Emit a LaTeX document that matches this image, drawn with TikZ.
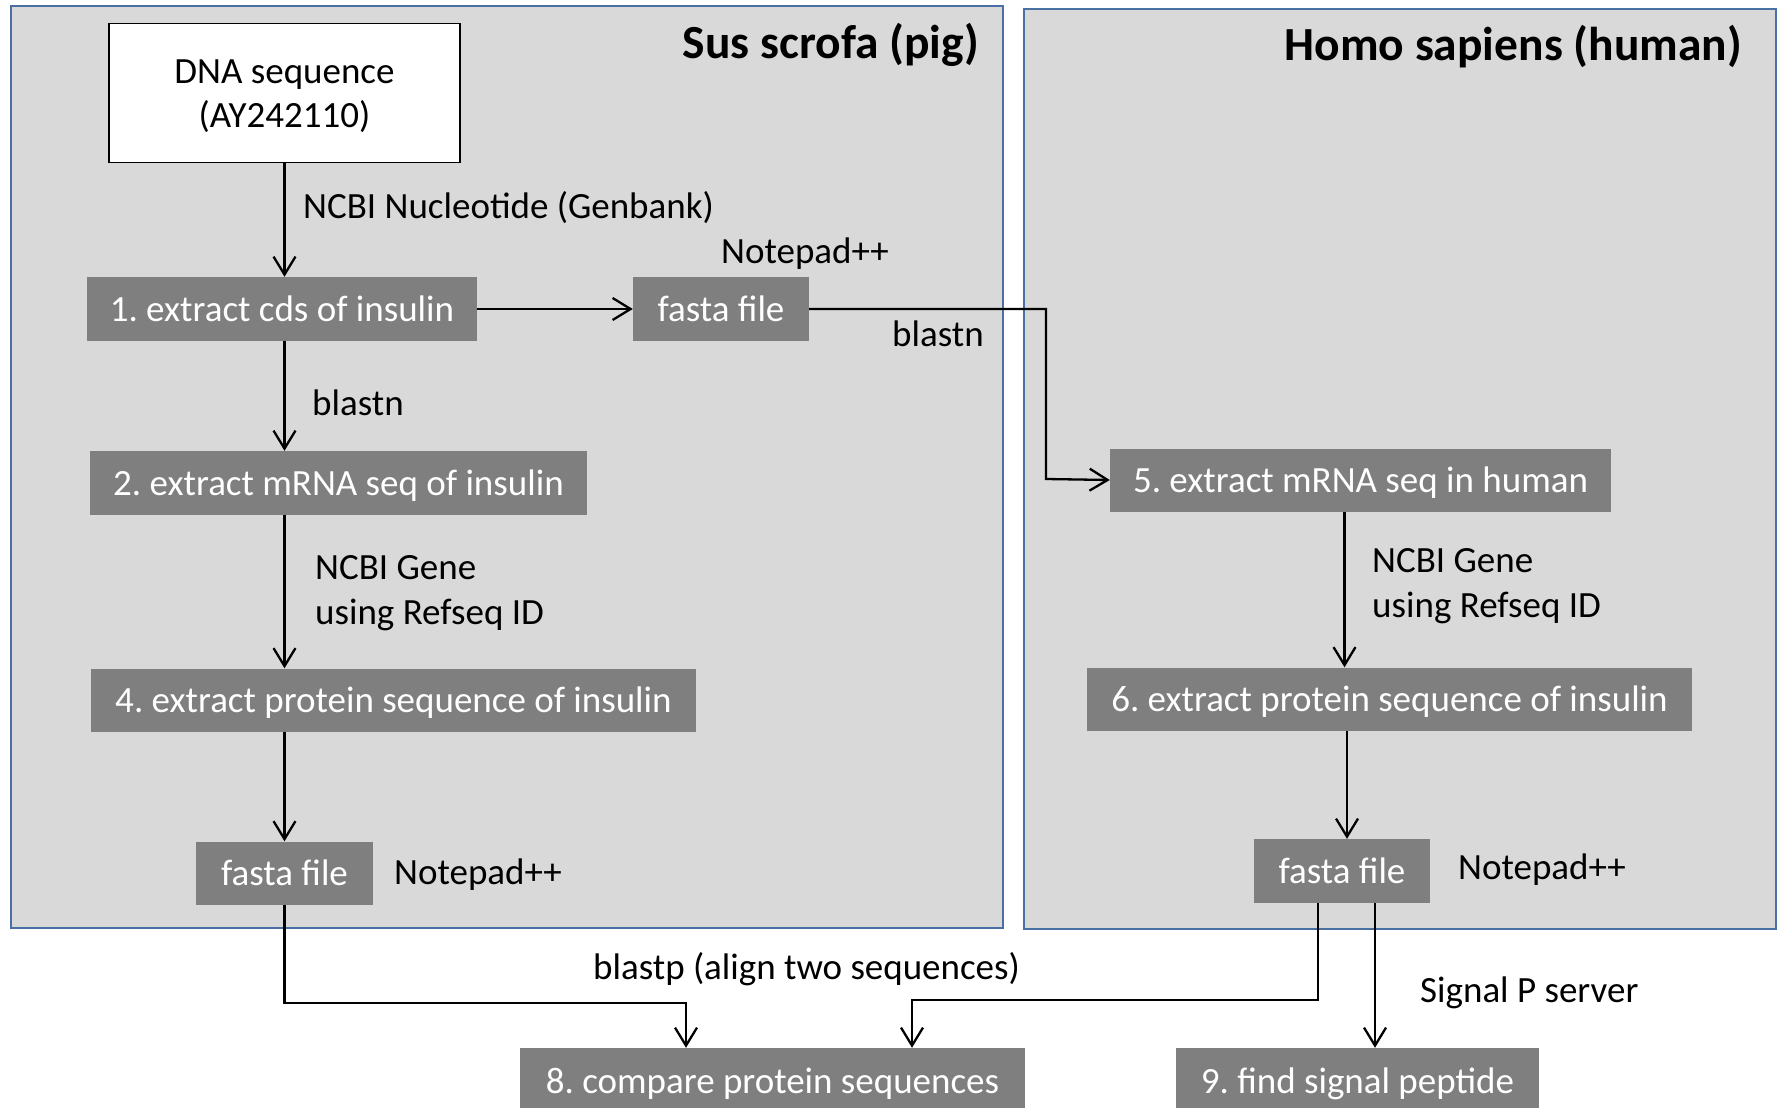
\documentclass[tikz,border=0pt]{standalone}
\usepackage{fontspec}
\setmainfont{Carlito}
\frenchspacing
\usetikzlibrary{arrows.meta}
\definecolor{panelfill}{HTML}{D9D9D9}
\definecolor{panelline}{HTML}{4A6FA5}
\definecolor{procfill}{HTML}{7F7F7F}
\begin{document}
\begin{tikzpicture}[x=1pt,y=-1pt,
  panel/.style={draw=panelline, line width=2.2pt, fill=panelfill},
  proc/.style={fill=procfill, text=white, inner sep=0pt, text height=25.5pt, text depth=0pt, font=\fontsize{37}{44}\selectfont\frenchspacing},
  lbl/.style={anchor=west, inner sep=0pt, align=left, font=\fontsize{37}{45}\selectfont\frenchspacing},
  ttl/.style={anchor=east, inner sep=0pt, font=\fontsize{47.5}{52}\selectfont\bfseries},
  arr/.style={draw=black, line width=2.3pt, -{Straight Barb[length=18pt,width=22pt,line width=2.3pt]}},
  conn/.style={draw=black, line width=2.3pt}]
\useasboundingbox (0,0) rectangle (1781,1108);
\fill[white] (0,0) rectangle (1781,1108);

% panels
\draw[panel] (11,6) rectangle (1003,928);
\draw[panel] (1024,9) rectangle (1776,929);
\node[ttl] (t1) at (979,45) {Sus scrofa (pig)};
\node[ttl] (t2) at (1742,47) {Homo sapiens (human)};

% nodes
\node[draw=black, line width=1.8pt, fill=white, minimum width=351pt, minimum height=139pt, inner sep=0pt] (dna) at (284.5,93) {};
\node[inner sep=0pt, align=center, font=\fontsize{37}{44}\selectfont] (dnatxt) at (284.5,96) {DNA sequence\\(AY242110)};
\node[proc, minimum width=390pt, minimum height=64pt] (n1) at (282,309) {1. extract cds of insulin};
\node[proc, minimum width=176pt, minimum height=64pt] (fa1) at (721,309) {fasta file};
\node[proc, minimum width=497pt, minimum height=64pt] (n2) at (338.5,483) {2. extract mRNA seq of insulin};
\node[proc, minimum width=605pt, minimum height=63pt] (n4) at (393.5,700) {4. extract protein sequence of insulin};
\node[proc, minimum width=177pt, minimum height=63pt] (fa2) at (284.5,873) {fasta file};
\node[proc, minimum width=501pt, minimum height=63pt] (n5) at (1360.5,480) {5. extract mRNA seq in human};
\node[proc, minimum width=605pt, minimum height=63pt] (n6) at (1389.5,699) {6. extract protein sequence of insulin};
\node[proc, minimum width=176pt, minimum height=64pt] (fa3) at (1342,871) {fasta file};
\node[proc, minimum width=505pt, minimum height=66pt] (n8) at (772.5,1081) {8. compare protein sequences};
\node[proc, minimum width=363pt, minimum height=66pt] (n9) at (1357.5,1081) {9. find signal peptide};

% labels
\node[lbl] (l1) at (303,208) {NCBI Nucleotide (Genbank)};
\node[lbl] (l2) at (721,254) {Notepad++};
\node[lbl] (l3) at (892,334) {blastn};
\node[lbl] (l4) at (312,403) {blastn};
\node[lbl] (l5) at (315,593) {NCBI Gene\\using Refseq ID};
\node[lbl] (l6) at (394,875) {Notepad++};
\node[lbl] (l7) at (1372,586) {NCBI Gene\\using Refseq ID};
\node[lbl] (l8) at (1458,870) {Notepad++};
\node[lbl] (l9) at (593,969) {blastp (align two sequences)};
\node[lbl] (l10) at (1420,993) {Signal P server};

% connectors
\coordinate (b1) at (1046,479);
\coordinate (c8a) at (686,1003);
\coordinate (c8b) at (912,1000);
\draw[arr] (dna.south) -- (dna.south |- n1.north);
\draw[arr] (n1.east) -- (fa1.west);
\draw[arr] (fa1.east) -| (b1) -- (n5.west);
\draw[arr] (n1.south -| dna.south) -- (n2.north -| dna.south);
\draw[arr] (n2.south -| dna.south) -- (n4.north -| dna.south);
\draw[arr] (n4.south -| fa2.north) -- (fa2.north);
\draw[arr] (fa2.south) |- (c8a) -- (c8a |- n8.north);
\draw[arr] ([xshift=-16pt]n5.south) -- ([xshift=-16pt]n5.south |- n6.north);
\draw[arr] ([xshift=5pt]fa3.north |- n6.south) -- ([xshift=5pt]fa3.north);
\draw[arr] ([xshift=-24pt]fa3.south) |- (c8b) -- (c8b |- n8.north);
\draw[arr] ([xshift=33pt]fa3.south) -- ([xshift=33pt]fa3.south |- n9.north);
\end{tikzpicture}
\end{document}
